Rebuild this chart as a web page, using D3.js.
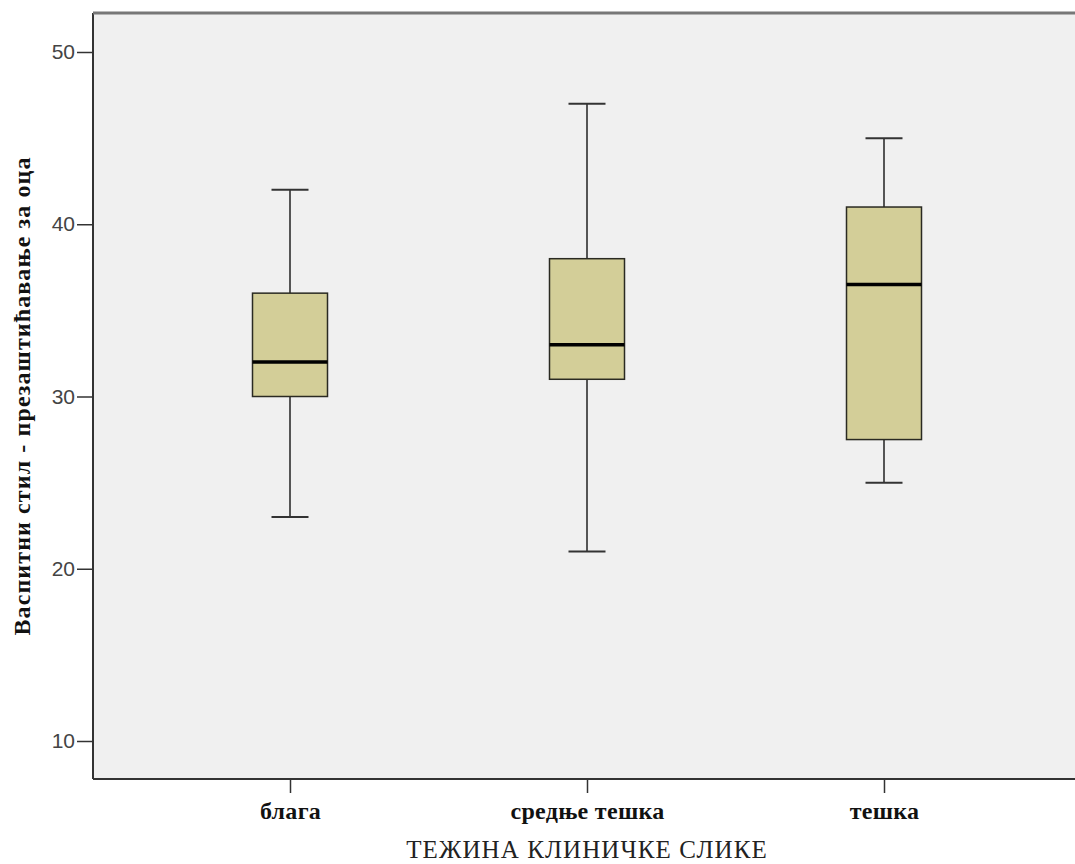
<!DOCTYPE html>
<html>
<head>
<meta charset="utf-8">
<script src="https://cdn.jsdelivr.net/npm/d3@7"></script>
<style>
  body { margin: 0; background: #fff; }
</style>
</head>
<body>
<div id="chart"></div>
<script>
// box plot values
let categories = ['блага', 'средње тешка', 'тешка']
let whiskerLow = [23, 21, 25]
let q1 = [30, 31, 27.5]
let medians = [32, 33, 36.5]
let q3 = [36, 38, 41]
let whiskerHigh = [42, 47, 45]
let yTicks = [10, 20, 30, 40, 50]

let margin = { top: 13, left: 93, right: 0, bottom: 85 },
    width = 1075 - margin.left - margin.right,
    height = 864 - margin.top - margin.bottom

let svg = d3.select('#chart')
  .append('svg')
  .attr('width', 1075)
  .attr('height', 864)

let g = svg.append('g').attr('transform', 'translate(' + margin.left + ',' + margin.top + ')')

// plot background
g.append('rect')
  .attr('width', width)
  .attr('height', height)
  .attr('fill', '#f0f0f0')

let x = d3.scalePoint().domain(categories).range([197, 791])
let y = d3.scaleLinear().domain([10, 50]).range([728, 39])

let data = categories.map(function(c, i) {
  return { cat: c, lo: whiskerLow[i], q1: q1[i], med: medians[i], q3: q3[i], hi: whiskerHigh[i] }
})

let boxW = 75, capW = 37

let box = g.selectAll('.box')
  .data(data)
  .enter().append('g')
  .attr('class', 'box')

// whiskers
box.append('line')
  .attr('x1', d => x(d.cat)).attr('x2', d => x(d.cat))
  .attr('y1', d => y(d.hi)).attr('y2', d => y(d.q3))
  .attr('stroke', '#222').attr('stroke-width', 1.5)
box.append('line')
  .attr('x1', d => x(d.cat)).attr('x2', d => x(d.cat))
  .attr('y1', d => y(d.q1)).attr('y2', d => y(d.lo))
  .attr('stroke', '#222').attr('stroke-width', 1.5)
box.append('line')
  .attr('x1', d => x(d.cat) - capW / 2).attr('x2', d => x(d.cat) + capW / 2)
  .attr('y1', d => y(d.hi)).attr('y2', d => y(d.hi))
  .attr('stroke', '#333').attr('stroke-width', 2)
box.append('line')
  .attr('x1', d => x(d.cat) - capW / 2).attr('x2', d => x(d.cat) + capW / 2)
  .attr('y1', d => y(d.lo)).attr('y2', d => y(d.lo))
  .attr('stroke', '#333').attr('stroke-width', 2)

// boxes
box.append('rect')
  .attr('x', d => x(d.cat) - boxW / 2)
  .attr('y', d => y(d.q3))
  .attr('width', boxW)
  .attr('height', d => y(d.q1) - y(d.q3))
  .attr('fill', '#d3ce98')
  .attr('stroke', '#2a2a22')
  .attr('stroke-width', 1.5)

// medians
box.append('line')
  .attr('x1', d => x(d.cat) - boxW / 2).attr('x2', d => x(d.cat) + boxW / 2)
  .attr('y1', d => y(d.med)).attr('y2', d => y(d.med))
  .attr('stroke', '#000').attr('stroke-width', 3.5)

// y axis
let yAxis = g.append('g')
  .call(d3.axisLeft(y).tickValues(yTicks).tickSize(16).tickSizeOuter(0))
yAxis.select('.domain').remove()
yAxis.selectAll('.tick line').attr('stroke', '#333').attr('stroke-width', 1.5)
yAxis.selectAll('.tick text')
  .attr('font-family', 'Liberation Sans, Arial, sans-serif')
  .attr('font-size', 21)
  .attr('fill', '#444')
  .attr('x', -18)

// x axis
let xAxis = g.append('g')
  .attr('transform', 'translate(0,' + height + ')')
  .call(d3.axisBottom(x).tickSize(14).tickSizeOuter(0))
xAxis.select('.domain').remove()
xAxis.selectAll('.tick line').attr('stroke', '#333').attr('stroke-width', 1.5)
xAxis.selectAll('.tick text')
  .attr('font-family', 'Liberation Serif, Times New Roman, serif')
  .attr('font-weight', 'bold')
  .attr('font-size', 24)
  .attr('letter-spacing', 0.3)
  .attr('fill', '#111')
  .attr('y', 23)

// frame: left, bottom, top
g.append('line').attr('x1', 0).attr('x2', 0).attr('y1', 0).attr('y2', height)
  .attr('stroke', '#333').attr('stroke-width', 2)
g.append('line').attr('x1', 0).attr('x2', width).attr('y1', height).attr('y2', height)
  .attr('stroke', '#333').attr('stroke-width', 2)
g.append('line').attr('x1', 0).attr('x2', width).attr('y1', 0).attr('y2', 0)
  .attr('stroke', '#777').attr('stroke-width', 3)

// axis titles
svg.append('text')
  .attr('x', margin.left + x('средње тешка'))
  .attr('y', 858)
  .attr('text-anchor', 'middle')
  .attr('font-family', 'Liberation Serif, Times New Roman, serif')
  .attr('font-size', 25)
  .attr('letter-spacing', 1.1)
  .attr('fill', '#222')
  .text('ТЕЖИНА КЛИНИЧКЕ СЛИКЕ')

svg.append('text')
  .attr('transform', 'translate(30,' + (margin.top + height / 2) + ') rotate(-90)')
  .attr('text-anchor', 'middle')
  .attr('font-family', 'Liberation Serif, Times New Roman, serif')
  .attr('font-weight', 'bold')
  .attr('font-size', 24)
  .attr('letter-spacing', 1.1)
  .attr('fill', '#111')
  .text('Васпитни стил - презаштићавање за оца')
</script>
</body>
</html>
